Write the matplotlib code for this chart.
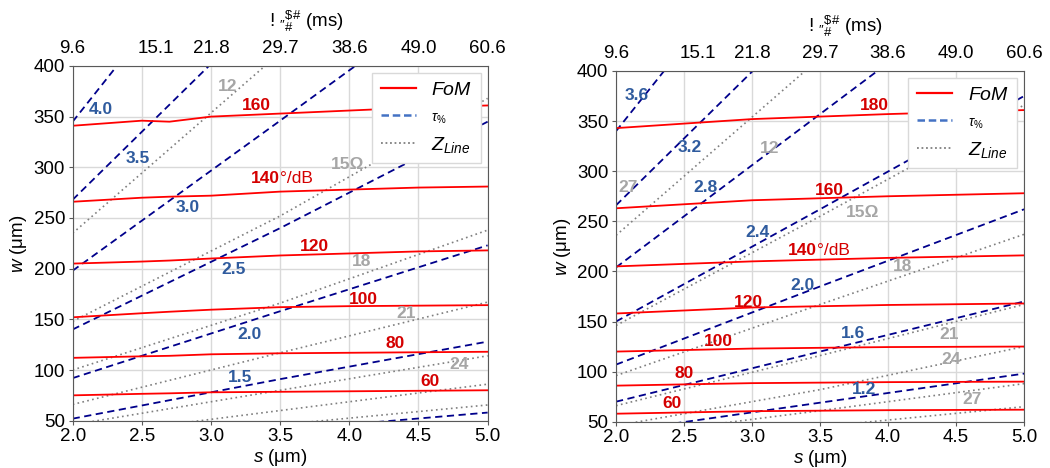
import numpy as np
import matplotlib
matplotlib.use("Agg")
import matplotlib.pyplot as plt

plt.rcParams['font.family'] = ['Liberation Sans', 'DejaVu Sans']
plt.rcParams['mathtext.fontset'] = 'custom'
plt.rcParams['mathtext.rm'] = 'Liberation Sans'
plt.rcParams['mathtext.it'] = 'Liberation Sans:italic'
plt.rcParams['mathtext.bf'] = 'Liberation Sans:bold'

# ---------------- data ----------------
top_labels = ['9.6', '15.1', '21.8', '29.7', '38.6', '49.0', '60.6']
top_pos = [2.0, 2.6, 3.0, 3.5, 4.0, 4.5, 5.0]

# left panel
s_fom_l = [2.0, 2.5, 2.7, 3.0, 3.5, 4.0, 4.5, 5.0]
fom_l = {
    '160': [341, 346, 345, 350, 353, 356, 359, 361],
    '140': [266, 270, 271, 272, 276, 278, 280, 281],
    '120': [205, 207, 208, 210, 213, 215, 217, 218],
    '100': [152, 156, 157.5, 159.5, 162, 163, 163.5, 164],
    '80': [112, 113.5, 114, 115.5, 116.5, 117, 117.5, 118],
    '60': [75, 76.5, 77, 78, 78.5, 79, 79.5, 80],
}
s_tau_l = [2.0, 3.5, 5.0]
tau_l = {
    '4.0': [345, 603, 862],
    '3.5': [268, 469, 670],
    '3.0': [198, 346, 495],
    '2.5': [140, 240, 345],
    '2.0': [92, 158, 223],
    '1.5': [52, 91, 128],
    '1.0': [23, 40.5, 58],
}
s_z_l = [2.0, 3.5, 5.0]
z_l = {
    '12': [235, 413, 590],
    '15': [148, 252, 368],
    '18': [100, 166, 238],
    '21': [66, 117, 167],
    '24': [46, 80, 114],
    '27': [34, 60, 86],
    '30': [26, 46, 65.5],
}

# right panel
s_fom_r = [2.0, 3.0, 4.0, 5.0]
fom_r = {
    '180': [343, 352, 357, 361],
    '160': [263, 271, 275, 278],
    '140': [205, 210, 213.5, 216],
    '120': [158, 164, 166.5, 168],
    '100': [120, 123, 124.5, 125],
    '80': [86, 88.5, 89.5, 90],
    '60': [58, 60.5, 61.5, 62],
}
s_tau_r = [2.0, 3.5, 5.0]
tau_r = {
    '3.6': [340, 595, 850],
    '3.2': [266, 466, 665],
    '2.8': [204, 357, 510],
    '2.4': [150, 262, 375],
    '2.0': [107, 185, 262],
    '1.6': [70, 120, 170],
    '1.2': [40, 69, 98],
}
s_z_r = [2.0, 3.5, 5.0]
z_r = {
    '12': [236, 413, 590],
    '15': [146, 255, 366],
    '18': [96, 167, 237],
    '21': [66, 116, 167],
    '24': [46, 82, 125],
    '27': [35, 61, 88],
    '30': [26, 45, 65],
}

# label texts and where they sit (s, w)
lab_l = [
    ('4.0', 2.20, 357, 'tau'), ('3.5', 2.47, 309, 'tau'), ('3.0', 2.83, 260, 'tau'),
    ('2.5', 3.16, 199, 'tau'), ('2.0', 3.28, 135, 'tau'), ('1.5', 3.21, 93, 'tau'),
    ('160', 3.33, 361, 'fom'), ('140', 3.52, 289, 'fom140'), ('120', 3.75, 222, 'fom'),
    ('100', 4.10, 170, 'fom'), ('80', 4.33, 126, 'fom'), ('60', 4.58, 88.5, 'fom'),
    ('12', 3.12, 380, 'z'), ('15Ω', 3.99, 303, 'z'), ('18', 4.09, 207, 'z'),
    ('21', 4.41, 156, 'z'), ('24', 4.79, 105, 'z'),
]
lab_r = [
    ('3.6', 2.15, 376, 'tau'), ('3.2', 2.54, 324, 'tau'), ('2.8', 2.66, 284, 'tau'),
    ('2.4', 3.04, 239, 'tau'), ('2.0', 3.37, 186, 'tau'), ('1.6', 3.74, 138, 'tau'),
    ('1.2', 3.82, 82, 'tau'),
    ('180', 3.90, 366, 'fom'), ('160', 3.57, 281, 'fom'), ('140', 3.50, 221, 'fom140'),
    ('120', 2.97, 169, 'fom'), ('100', 2.75, 130, 'fom'), ('80', 2.50, 98, 'fom'),
    ('60', 2.41, 68, 'fom'),
    ('27', 2.09, 284, 'z'), ('12', 3.13, 323, 'z'), ('15Ω', 3.81, 259, 'z'),
    ('18', 4.11, 205, 'z'), ('21', 4.45, 137, 'z'), ('24', 4.46, 112, 'z'),
    ('27', 4.62, 72, 'z'),
]

RED = '#ff0000'
RED_TXT = '#d40000'
NAVY = '#00008b'
BLUE_TXT = '#2f5b9e'
GRAY = '#7f7f7f'
GRAY_TXT = '#a6a6a6'
FS = 13.5


def draw_panel(ax, s_fom, fom, s_tau, tau, s_z, z, labels):
    for vals in z.values():
        ax.plot(s_z, vals, color=GRAY, ls=(0, (1, 2)), lw=1.2)
    for vals in tau.values():
        ax.plot(s_tau, vals, color=NAVY, ls=(0, (4, 2.5)), lw=1.3)
    for vals in fom.values():
        ax.plot(s_fom, vals, color=RED, lw=1.3)

    for txt, s, w, kind in labels:
        if kind == 'tau':
            ax.text(s, w, txt, color=BLUE_TXT, fontsize=12.5, fontweight='bold', ha='center', va='center')
        elif kind == 'z':
            ax.text(s, w, txt, color=GRAY_TXT, fontsize=12.5, fontweight='bold', ha='center', va='center')
        elif kind == 'fom':
            ax.text(s, w, txt, color=RED_TXT, fontsize=12.5, fontweight='bold', ha='center', va='center')
        else:
            ax.text(s - 0.02, w, txt, color=RED_TXT, fontsize=12.5, fontweight='bold',
                    ha='right', va='center')
            ax.text(s - 0.02, w, '°/dB', color=RED_TXT, fontsize=12.5, ha='left', va='center')

    ax.set_xlim(2.0, 5.0)
    ax.set_ylim(50, 400)
    ax.set_xticks([2.0, 2.5, 3.0, 3.5, 4.0, 4.5, 5.0])
    ax.set_xticklabels(['2.0', '2.5', '3.0', '3.5', '4.0', '4.5', '5.0'])
    ax.set_yticks([50, 100, 150, 200, 250, 300, 350, 400])
    ax.tick_params(labelsize=FS, length=3, pad=2.5, color='#595959')
    ax.grid(True, color='#d9d9d9', lw=1)
    for sp in ax.spines.values():
        sp.set_color('#595959')
    ax.set_xlabel(r'$s$ (μm)', fontsize=FS, labelpad=1)
    ax.set_ylabel(r'$w$ (μm)', fontsize=FS, labelpad=3)

    ax.plot([], [], color=RED, lw=1.6, label=r'$FoM$')
    ax.plot([], [], color='#4472c4', ls=(0, (3, 1.5)), lw=1.8, label=r'$\tau_{\%}$')
    ax.plot([], [], color=GRAY, ls=(0, (1, 1.5)), lw=1.3, label=r'$Z_{Line}$')
    handles, labs = ax.get_legend_handles_labels()
    leg = ax.legend(handles[-3:], labs[-3:], loc='upper right', fontsize=14, fancybox=False,
                    framealpha=1, edgecolor='#d9d9d9', handlelength=1.8, handletextpad=0.8,
                    labelspacing=0.45, borderaxespad=0.35, borderpad=0.45)
    leg.get_texts()[1].set_fontsize(10)

    top = ax.twiny()
    top.set_xlim(ax.get_xlim())
    top.set_xticks(top_pos)
    top.set_xticklabels(top_labels)
    top.tick_params(length=0, labelsize=FS, pad=6.5)
    top.set_xlabel(r'! $_{″}{}^{\$\#}_{\#}$ (ms)', fontsize=FS, labelpad=9, x=0.563)
    for sp in top.spines.values():
        sp.set_visible(False)


fig = plt.figure(figsize=(10.5, 4.68), dpi=100)
ax1 = fig.add_axes([0.0692, 0.1011, 0.3952, 0.758])
ax2 = fig.add_axes([0.5867, 0.0989, 0.3886, 0.7494])

draw_panel(ax1, s_fom_l, fom_l, s_tau_l, tau_l, s_z_l, z_l, lab_l)
draw_panel(ax2, s_fom_r, fom_r, s_tau_r, tau_r, s_z_r, z_r, lab_r)

fig.savefig('out.png', dpi=100)
